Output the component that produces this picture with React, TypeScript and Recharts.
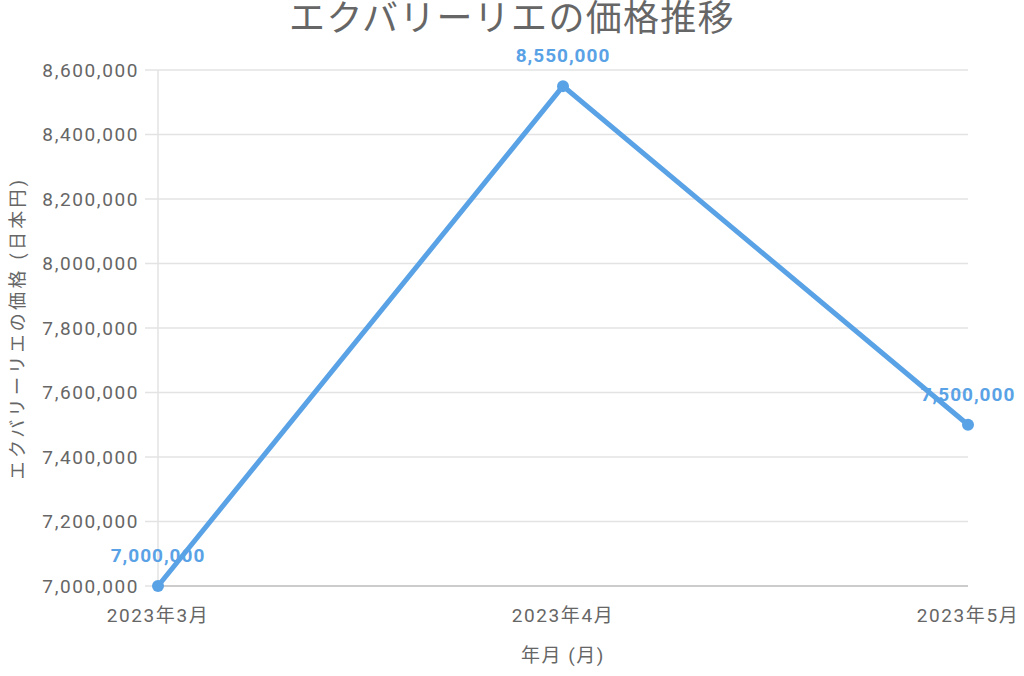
import React from 'react';
import { LineChart, Line, XAxis, YAxis, CartesianGrid, LabelList } from 'recharts';

const months = ['2023年3月', '2023年4月', '2023年5月'];
const prices = [7000000, 8550000, 7500000];
const yTicks = [7000000, 7200000, 7400000, 7600000, 7800000, 8000000, 8200000, 8400000, 8600000];

const data = months.map((month, i) => ({ month, price: prices[i] }));

const FONT = "Roboto, 'Noto Sans CJK JP', sans-serif";
const BLUE = '#5aa2e6';

const fmt = (v: number) => v.toLocaleString('en-US');

const App: React.FC = () => {
  return (
    <div style={{ position: 'relative', width: 1024, height: 676, fontFamily: FONT, background: '#fff' }}>
      <style>{`body { margin: 0; }`}</style>
      <div
        style={{
          position: 'absolute',
          top: 0,
          left: 0,
          width: 1024,
          textAlign: 'center',
          fontSize: 36,
          lineHeight: '38px',
          letterSpacing: 1.3,
          color: '#666',
        }}
      >
        エクバリーリエの価格推移
      </div>
      <LineChart width={1024} height={676} data={data} margin={{ top: 70, right: 56, bottom: 0, left: 0 }}>
        <CartesianGrid vertical={false} stroke="#e3e3e3" strokeWidth={1.5} />
        <XAxis
          dataKey="month"
          height={90}
          tickLine={false}
          axisLine={{ stroke: '#cccccc', strokeWidth: 2 }}
          tick={{ fill: '#666', fontSize: 19, fontFamily: FONT, style: { letterSpacing: 1.6 } }}
          tickMargin={17}
          label={{
            value: '年月 (月)',
            position: 'insideBottom',
            offset: 14,
            fill: '#666',
            fontSize: 19,
            fontFamily: FONT,
            style: { letterSpacing: 1.5 },
          }}
        />
        <YAxis
          width={158}
          domain={[7000000, 8600000]}
          ticks={yTicks}
          tickFormatter={fmt}
          tickSize={13}
          tickMargin={6}
          tickLine={{ stroke: '#e3e3e3', strokeWidth: 1.5 }}
          axisLine={{ stroke: '#e3e3e3', strokeWidth: 1.5 }}
          tick={{ fill: '#666', fontSize: 19, fontFamily: FONT, style: { letterSpacing: 1.6 } }}
          label={{
            value: 'エクバリーリエの価格 (日本円)',
            angle: -90,
            position: 'insideLeft',
            offset: 18,
            fill: '#666',
            fontSize: 18,
            fontFamily: FONT,
            style: { textAnchor: 'middle', letterSpacing: 3.3 },
          }}
        />
        <Line
          type="linear"
          dataKey="price"
          stroke={BLUE}
          strokeWidth={5}
          dot={{ r: 6, fill: BLUE, stroke: BLUE, strokeWidth: 0 }}
          activeDot={false}
          isAnimationActive={false}
        >
          <LabelList
            dataKey="price"
            position="top"
            offset={24}
            formatter={(v: number) => fmt(v)}
            fill={BLUE}
            fontSize={19}
            fontWeight="bold"
            fontFamily={FONT}
            style={{ letterSpacing: 1 }}
          />
        </Line>
      </LineChart>
    </div>
  );
};

export default App;
